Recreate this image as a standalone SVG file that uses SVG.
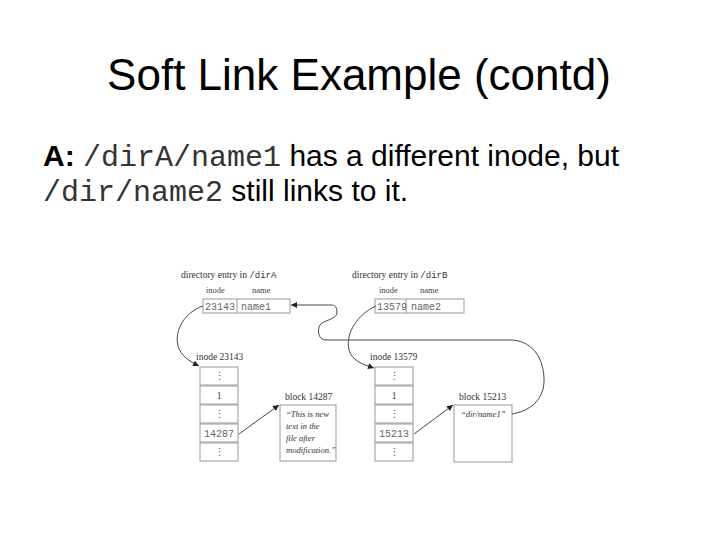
<svg xmlns="http://www.w3.org/2000/svg" width="720" height="540" viewBox="0 0 720 540">
<defs>
<marker id="ah" viewBox="0 0 10 10" refX="10" refY="5" markerWidth="8" markerHeight="6" markerUnits="userSpaceOnUse" orient="auto">
<path d="M0,0 L10,5 L0,10 z" fill="#222"/>
</marker>
<style>
.title{font-family:"Liberation Sans",Arial,sans-serif;font-size:44px;fill:#000}
.body{font-family:"Liberation Sans",Arial,sans-serif;font-size:30px;fill:#000}
.mono{font-family:"Liberation Mono","Courier New",monospace;fill:#333}
.lbl{font-family:"Liberation Serif","Times New Roman",serif;font-size:9.5px;fill:#333}
.sm{font-family:"Liberation Serif","Times New Roman",serif;font-size:8.5px;fill:#444}
.cm{font-family:"Liberation Mono","Courier New",monospace;font-size:10px;fill:#666}
.it{font-family:"Liberation Serif","Times New Roman",serif;font-style:italic;font-size:8.5px;fill:#333}
.dots{font-family:"DejaVu Serif",serif;font-size:11px;fill:#555}
.box{fill:#fff;stroke:#999;stroke-width:1}
.con{fill:none;stroke:#333;stroke-width:0.9}
</style>
</defs>
<rect width="720" height="540" fill="#fff"/>
<text class="title" x="359" y="90" text-anchor="middle">Soft Link Example (contd)</text>
<text class="body" x="43" y="166"><tspan font-weight="bold">A:</tspan> <tspan class="mono">/dirA/name1</tspan> has a different inode, but</text>
<text class="body" x="43" y="201"><tspan class="mono">/dir/name2</tspan> still links to it.</text>

<g id="dirA">
<text class="lbl" x="181" y="278">directory entry in <tspan class="mono" font-size="9">/dirA</tspan></text>
<text class="sm" x="206" y="293">inode</text>
<text class="sm" x="252" y="293">name</text>
<rect class="box" x="203" y="299" width="87" height="14"/>
<line x1="237" y1="299" x2="237" y2="313" stroke="#999"/>
<text class="cm" x="205" y="310">23143</text>
<text class="cm" x="241" y="310">name1</text>
</g>

<g id="dirB">
<text class="lbl" x="352" y="278">directory entry in <tspan class="mono" font-size="9">/dirB</tspan></text>
<text class="sm" x="379" y="293">inode</text>
<text class="sm" x="420" y="293">name</text>
<rect class="box" x="375" y="299" width="89" height="14"/>
<line x1="406" y1="299" x2="406" y2="313" stroke="#999"/>
<text class="cm" x="377" y="310">13579</text>
<text class="cm" x="411" y="310">name2</text>
</g>

<g id="inodeA">
<text class="lbl" x="196" y="360">inode 23143</text>
<rect class="box" x="200" y="367" width="38" height="18"/>
<rect class="box" x="200" y="386" width="38" height="18"/>
<rect class="box" x="200" y="405" width="38" height="18"/>
<rect class="box" x="200" y="424" width="38" height="18"/>
<rect class="box" x="200" y="443" width="38" height="18"/>
<text class="dots" x="219" y="380" text-anchor="middle">⋮</text>
<text class="lbl" x="219" y="399" text-anchor="middle" font-size="10">1</text>
<text class="dots" x="219" y="418" text-anchor="middle">⋮</text>
<text class="cm" x="219" y="437" text-anchor="middle">14287</text>
<text class="dots" x="219" y="456" text-anchor="middle">⋮</text>
</g>

<g id="blockA">
<text class="lbl" x="285" y="400">block 14287</text>
<rect class="box" x="280" y="405" width="56" height="56"/>
<text class="it" x="286" y="417">“This is new</text>
<text class="it" x="286" y="429">text in the</text>
<text class="it" x="286" y="441">file after</text>
<text class="it" x="286" y="453">modification.”</text>
</g>

<g id="inodeB">
<text class="lbl" x="370" y="360">inode 13579</text>
<rect class="box" x="375" y="367" width="38" height="18"/>
<rect class="box" x="375" y="386" width="38" height="18"/>
<rect class="box" x="375" y="405" width="38" height="18"/>
<rect class="box" x="375" y="424" width="38" height="18"/>
<rect class="box" x="375" y="443" width="38" height="18"/>
<text class="dots" x="394" y="380" text-anchor="middle">⋮</text>
<text class="lbl" x="394" y="399" text-anchor="middle" font-size="10">1</text>
<text class="dots" x="394" y="418" text-anchor="middle">⋮</text>
<text class="cm" x="394" y="437" text-anchor="middle">15213</text>
<text class="dots" x="394" y="456" text-anchor="middle">⋮</text>
</g>

<g id="blockB">
<text class="lbl" x="459" y="400">block 15213</text>
<rect class="box" x="454" y="405" width="58" height="57"/>
<text class="it" x="461" y="417">“dir/name1”</text>
</g>

<g id="connectors">
<path class="con" d="M203,306 C185,312 174,330 178,346 C181,356 189,361 199,366" marker-end="url(#ah)"/>
<path class="con" d="M376,306 C358,314 345,333 349,350 C352,360 361,364 374,368" marker-end="url(#ah)"/>
<path class="con" d="M239,434 L279,405" marker-end="url(#ah)"/>
<path class="con" d="M414,434 L453,405" marker-end="url(#ah)"/>
<path class="con" d="M512,414 C535,410 545,395 544,378 C543,355 530,340 510,340 L326,340 C318,340 317,330 320,325 C323,320 336,320 337,313 C337,307 335,305 331,305 L291,305" marker-end="url(#ah)"/>
</g>
</svg>
